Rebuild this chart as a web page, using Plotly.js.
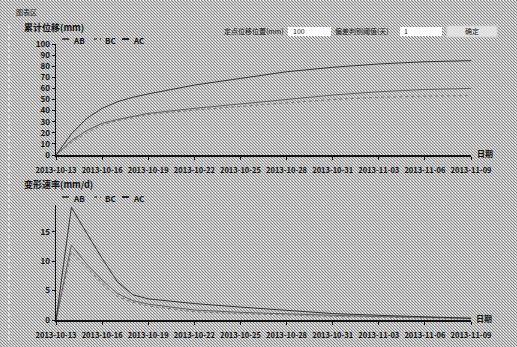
<!DOCTYPE html>
<html>
<head>
<meta charset="utf-8">
<script src="https://cdn.plot.ly/plotly-3.0.1.min.js"></script>
<style>
html,body{margin:0;padding:0;}
body{width:517px;height:347px;overflow:hidden;background-color:#bcbcbc;
background-image:url("data:image/svg+xml;utf8,<svg xmlns='http://www.w3.org/2000/svg' width='3' height='3' shape-rendering='crispEdges'><rect width='3' height='3' fill='%23cfcfcf'/><rect x='0' y='0' width='1' height='1' fill='%23868686'/><rect x='1' y='1' width='1' height='1' fill='%23868686'/><rect x='2' y='2' width='1' height='1' fill='%23868686'/><rect x='2' y='0' width='1' height='1' fill='%23efefef'/></svg>");
background-size:3px 3px;image-rendering:pixelated;}
#chart{width:517px;height:347px;}
</style>
</head>
<body>
<div id="chart"></div>
<script>
// ---- data ----
const dates = ['2013-10-13','2013-10-14','2013-10-15','2013-10-16','2013-10-17','2013-10-18','2013-10-19',
               '2013-10-22','2013-10-25','2013-10-28','2013-10-31','2013-11-03','2013-11-06','2013-11-09'];
const seriesNames = ['AB','BC','AC'];
// cumulative displacement (mm)
const cumAB = [0,13,22,28.5,32,35,37.5,42,46,50,54,57,59,60];
const cumBC = [0,11.5,20,27,31,34,36.5,40.5,44,47,50,52,53,53.5];
const cumAC = [0,19,33,42,48,52,55,63,69,75,79,82,84,85];
// deformation rate (mm/d)
const rateAB = [0,12.8,9.5,6.8,4.5,3.3,2.7,1.7,1.3,1.0,0.8,0.6,0.4,0.3];
const rateBC = [0,11.6,9.0,6.2,4.0,3.0,2.4,1.4,1.1,0.8,0.6,0.5,0.3,0.2];
const rateAC = [0,19.2,14.8,10.5,6.5,4.3,3.6,2.8,2.2,1.6,1.1,0.8,0.5,0.3];
const xTickStart = '2013-10-13';
const xRange = ['2013-10-13','2013-11-09'];
const title1 = '累计位移(mm)';
const title2 = '变形速率(mm/d)';
const xAxisLabel = '日期';
const panelLabel = '图表区';
const field1Label = '定点位移位置(mm)';
const field1Value = '100';
const field2Label = '偏差判别阈值(天)';
const field2Value = '1';
const buttonLabel = '确定';

// ---- styles ----
const W = 517, H = 347;
const px = x => x / W;
const py = y => 1 - y / H;
const FONT = '"Noto Sans CJK SC","DejaVu Sans",sans-serif';
const styles = {
  AB: {color:'#464646', width:0.8, dash:'solid'},
  BC: {color:'#606060', width:0.8, dash:'dot'},
  AC: {color:'#222222', width:0.9, dash:'solid'}
};

const cum = {AB:cumAB, BC:cumBC, AC:cumAC};
const rate = {AB:rateAB, BC:rateBC, AC:rateAC};
const traces = [];
seriesNames.forEach(n => {
  traces.push({x:dates, y:cum[n], name:n, type:'scatter', mode:'lines', xaxis:'x', yaxis:'y',
    line:styles[n], showlegend:false, hoverinfo:'skip'});
});
seriesNames.forEach(n => {
  traces.push({x:dates, y:rate[n], name:n, type:'scatter', mode:'lines', xaxis:'x2', yaxis:'y2',
    line:styles[n], showlegend:false, hoverinfo:'skip'});
});

const axisCommon = {
  showline:true, linecolor:'#111', linewidth:1.5, ticks:'outside', ticklen:3, tickwidth:1,
  tickcolor:'#111', showgrid:false, zeroline:false,
  tickfont:{family:FONT, size:8, color:'#111', weight:'bold'}
};
const xCommon = Object.assign({}, axisCommon, {
  type:'date', range:xRange, tick0:xTickStart, dtick:3*86400000, tickformat:'%Y-%m-%d',
  domain:[px(56), px(471)], ticklabelstandoff:4,
  tickfont:{family:FONT, size:7.5, color:'#111', weight:'bold'}
});

const annotations = [];
const shapes = [];
function txt(x, y, text, opts) {
  annotations.push(Object.assign({xref:'paper', yref:'paper', x:px(x), y:py(y), text:text,
    showarrow:false, xanchor:'left', yanchor:'middle',
    font:{family:FONT, size:8, color:'#111', weight:'bold'}}, opts || {}));
}
function box(x0, y0, x1, y1, fill, line) {
  shapes.push({type:'rect', xref:'paper', yref:'paper', x0:px(x0), x1:px(x1), y0:py(y1), y1:py(y0),
    fillcolor:fill, line:line || {width:0}});
}

// UI chrome
txt(14, 12, panelLabel, {font:{family:FONT, size:7, color:'#222'}});
shapes.push({type:'line', xref:'paper', yref:'paper', x0:px(9), x1:px(9), y0:py(340), y1:py(22),
  line:{color:'#ffffff', width:1, dash:'dot'}});
txt(222, 31, field1Label, {font:{family:FONT, size:7, color:'#111'}});
box(288, 27, 331, 36, '#ffffff');
txt(291, 31, field1Value, {font:{family:FONT, size:7, color:'#111'}});
txt(333, 31, field2Label, {font:{family:FONT, size:7, color:'#111'}});
box(400, 27, 442, 36, '#ffffff');
txt(402, 31, field2Value, {font:{family:FONT, size:7, color:'#111'}});
box(447, 26, 497, 37, 'rgba(232,232,232,0.85)', {color:'#cfcfcf', width:1});
txt(472, 31, buttonLabel, {xanchor:'center', font:{family:FONT, size:7, color:'#111'}});

// chart titles
txt(22, 27, title1, {font:{family:FONT, size:9, color:'#111', weight:'bold'}});
txt(22, 184, title2, {font:{family:FONT, size:9, color:'#111', weight:'bold'}});
txt(475, 153, xAxisLabel);
txt(474, 318, xAxisLabel);

// manual legends
function legend(yc) {
  const xs = [62, 94, 122];
  seriesNames.forEach((n, i) => {
    const s = styles[n];
    shapes.push({type:'line', xref:'paper', yref:'paper', x0:px(xs[i]), x1:px(xs[i]+7),
      y0:py(yc-1), y1:py(yc-1), line:{color:s.color, width:2, dash:n==='BC'?'dot':'solid'}});
    txt(xs[i]+9, yc, n);
  });
}
legend(40);
legend(198);

const layout = {
  width:W, height:H, margin:{l:0, r:0, t:0, b:0},
  paper_bgcolor:'rgba(0,0,0,0)', plot_bgcolor:'rgba(0,0,0,0)',
  font:{family:FONT, size:8, color:'#111'},
  showlegend:false,
  xaxis:Object.assign({}, xCommon, {anchor:'y'}),
  yaxis:Object.assign({}, axisCommon, {anchor:'x', domain:[py(155), py(44)], range:[0,100], dtick:10}),
  xaxis2:Object.assign({}, xCommon, {anchor:'y2'}),
  yaxis2:Object.assign({}, axisCommon, {anchor:'x2', domain:[py(320), py(205)], range:[0,19.6],
    tickvals:[0,5,10,15]}),
  annotations:annotations,
  shapes:shapes
};

Plotly.newPlot('chart', traces, layout, {staticPlot:true, displayModeBar:false});
</script>
</body>
</html>
